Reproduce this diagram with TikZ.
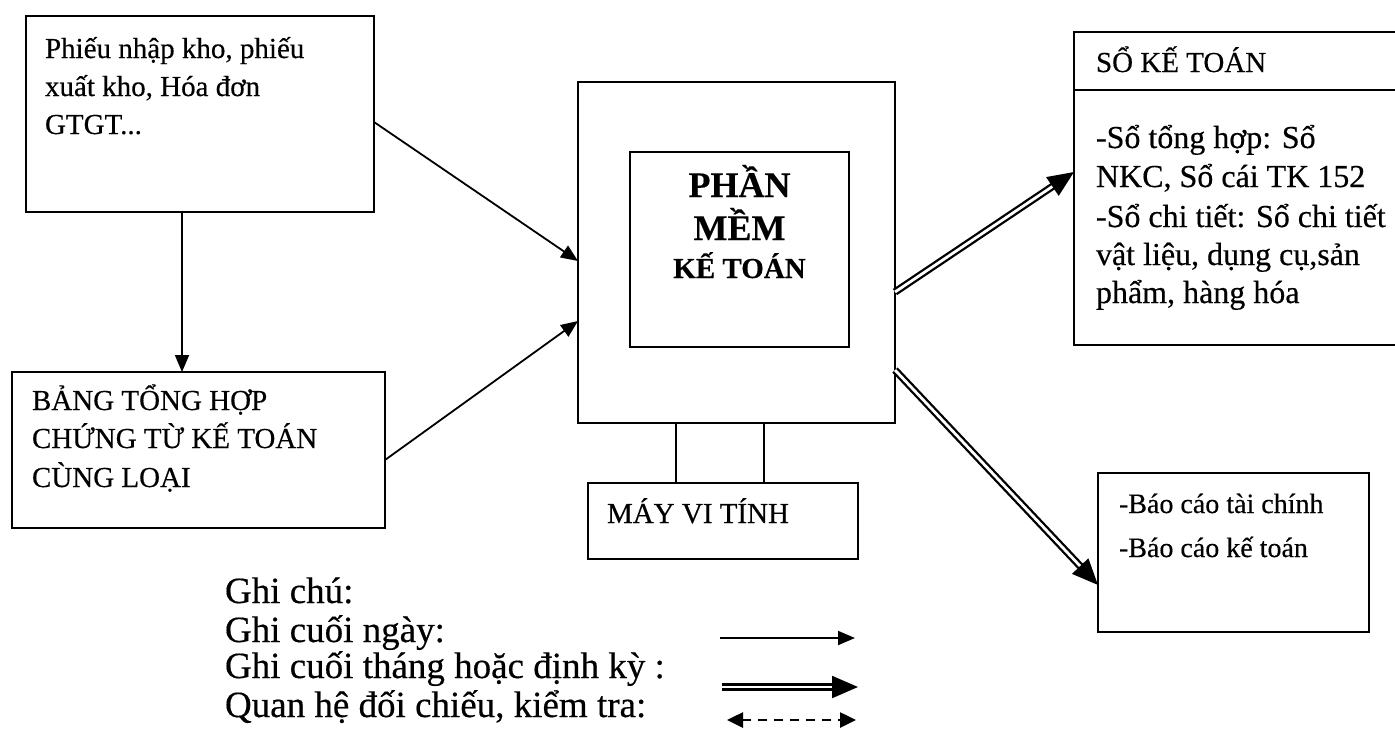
\documentclass[tikz,border=0pt]{standalone}
\usepackage{fontspec}
\setmainfont{Liberation Serif}[FakeBold=0.4]
\usetikzlibrary{arrows.meta}

\begin{document}
\begin{tikzpicture}[x=1pt, y=-1pt,
  box/.style={draw, line width=2.4pt, inner sep=0pt, outer sep=0pt, anchor=north west},
  txt/.style={anchor=base west, inner sep=0pt, outer sep=0pt},
  ctxt/.style={anchor=base, inner sep=0pt, outer sep=0pt},
  fs/.style={font=\fontsize{#1}{#1}\selectfont},
  fsb/.style={font=\fontsize{#1}{#1}\selectfont\bfseries},
  daily/.style={line width=1.8pt, -{Triangle[length=17pt,width=14pt]}},
  monthly/.style={double, double distance=2.8pt, line width=2.3pt, -{Triangle[length=26pt,width=22pt]}},
  crosscheck/.style={line width=2.6pt, dash pattern=on 9pt off 7pt, {Triangle[length=16pt,width=15pt]}-{Triangle[length=16pt,width=15pt]}},
  leg/.style={line width=2pt}
]
\useasboundingbox (0,0) rectangle (1395,737);

% source documents
\node[box, minimum width=348pt, minimum height=196pt] (A) at (26,16) {};
\node[txt, fs=29] (a1) at (45,58) {Phiếu nhập kho, phiếu};
\node[txt, fs=29] (a2) at (45,96) {xuất kho, Hóa đơn};
\node[txt, fs=29] (a3) at (45,134) {GTGT...};

% summary table
\node[box, minimum width=373pt, minimum height=156pt] (B) at (12,372) {};
\node[txt, fs=29] (b1) at (32,410) {BẢNG TỔNG HỢP};
\node[txt, fs=29] (b2) at (32,448) {CHỨNG TỪ KẾ TOÁN};
\node[txt, fs=29] (b3) at (32,487) {CÙNG LOẠI};

% accounting software
\node[box, minimum width=317pt, minimum height=341pt] (M) at (578,82) {};
\node[box, minimum width=219pt, minimum height=195pt] (I) at (630,152) {};
\node[ctxt, fsb=36] (i1) at (739.5,197) {PHẦN};
\node[ctxt, fsb=36] (i2) at (739.5,240) {MỀM};
\node[ctxt, fsb=29] (i3) at (739.5,278) {KẾ TOÁN};

% computer
\node[box, minimum width=270pt, minimum height=76pt] (PC) at (588,483) {};
\node[txt, fs=29] (pc1) at (607,523) {MÁY VI TÍNH};
\draw[leg] ([xshift=-60.5pt]M.south) -- ([xshift=-60.5pt]M.south |- PC.north);
\draw[leg] ([xshift=27.5pt]M.south) -- ([xshift=27.5pt]M.south |- PC.north);

% ledgers
\node[box, minimum width=324pt, minimum height=313pt] (S) at (1074,32) {};
\draw[line width=2.4pt] (S.north west) ++(0,58) coordinate (sh) -- (sh -| S.east);
\node[txt, fs=29] (s0) at (1096,72) {SỔ KẾ TOÁN};
\node[txt, fs=32] (s1) at (1096,148) {-Sổ tổng hợp: Sổ};
\node[txt, fs=32] (s2) at (1096,187) {NKC, Sổ cái TK 152};
\node[txt, fs=32] (s3) at (1096,227) {-Sổ chi tiết: Sổ chi tiết};
\node[txt, fs=32] (s4) at (1096,265) {vật liệu, dụng cụ,sản};
\node[txt, fs=32] (s5) at (1096,303) {phẩm, hàng hóa};

% reports
\node[box, minimum width=271pt, minimum height=159pt] (R) at (1098,473) {};
\node[txt, fs=28] (r1) at (1119,513) {-Báo cáo tài chính};
\node[txt, fs=28] (r2) at (1119,557) {-Báo cáo kế toán};

% flows
\draw[daily] ([xshift=-18pt]A.south) -- ([xshift=-18pt]A.south |- B.north);
\draw[daily] ([yshift=-8pt]A.east) -- ([yshift=-8.5pt]M.west);
\draw[daily] ([yshift=-10pt]B.east) -- ([yshift=-68.5pt]M.west);
\draw[monthly] ([yshift=-39.5pt]M.east) -- ([yshift=16.5pt]S.west);
\draw[monthly] ([yshift=-117.5pt]M.east) -- ([yshift=-32.5pt]R.west);

% legend
\node[txt, fs=37] (g0) at (225,603) {Ghi chú:};
\node[txt, fs=37] (g1) at (225,642) {Ghi cuối ngày:};
\node[txt, fs=37] (g2) at (225,678) {Ghi cuối tháng hoặc định kỳ :};
\node[txt, fs=37] (g3) at (225,717) {Quan hệ đối chiếu, kiểm tra:};
\coordinate (l1a) at (720,638);
\coordinate (l1b) at (855,638);
\coordinate (l2a) at (722,687);
\coordinate (l2b) at (858,687);
\coordinate (l3a) at (727,720);
\coordinate (l3b) at (856,720);
\draw[daily] (l1a) -- (l1b);
\draw[monthly] (l2a) -- (l2b);
\draw[crosscheck] (l3a) -- (l3b);
\end{tikzpicture}
\end{document}
